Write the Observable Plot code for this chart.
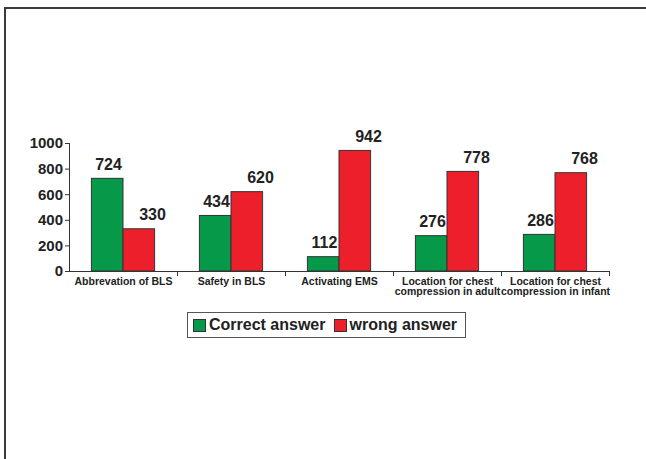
<!DOCTYPE html>
<html>
<head>
<meta charset="utf-8">
<script src="https://cdn.jsdelivr.net/npm/d3@7"></script>
<script src="https://cdn.jsdelivr.net/npm/@observablehq/plot@0.6"></script>
<style>
  html, body { margin: 0; padding: 0; background: #fff; overflow: hidden; }
  #wrap { position: relative; width: 646px; height: 459px; overflow: hidden; font-family: "Liberation Sans", Arial, sans-serif; }
  #border { position: absolute; left: 4px; top: 7px; width: 700px; height: 500px; border-left: 2px solid #3a3a3a; border-top: 2px solid #3a3a3a; }
  #chart { position: absolute; left: 0; top: 0; }
  #legend { position: absolute; left: 187px; top: 312px; width: 277px; height: 24px; border: 1.5px solid #555; background: #fff; display: flex; align-items: center; font-size: 16px; font-weight: bold; color: #222; }
  .sw { display: inline-block; width: 11px; height: 11px; border: 1px solid #333; margin-right: 3px; }
  .item { display: flex; align-items: center; }
</style>
</head>
<body>
<div id="wrap">
  <div id="border"></div>
  <div id="chart"></div>
  <div id="legend"></div>
</div>
<script>
const categories = [
  "Abbrevation of BLS",
  "Safety in BLS",
  "Activating EMS",
  "Location for chest\ncompression in adult",
  "Location for chest\ncompression in infant"
];
const correct = [724, 434, 112, 276, 286];
const wrong = [330, 620, 942, 778, 768];
const seriesNames = ["Correct answer", "wrong answer"];
const seriesColors = ["#06994a", "#ed1f2a"];
const yTicks = [0, 200, 400, 600, 800, 1000];

const greenData = categories.map((c, i) => ({cat: c, series: seriesNames[0], value: correct[i]}));
const redData = categories.map((c, i) => ({cat: c, series: seriesNames[1], value: wrong[i]}));

const chart = Plot.plot({
  width: 646,
  height: 459,
  marginLeft: 69,
  marginRight: 37,
  marginTop: 143,
  marginBottom: 188,
  style: {fontFamily: "Liberation Sans, Arial, sans-serif", color: "#222", background: "transparent"},
  x: {domain: categories, padding: 0},
  y: {domain: [0, 1000]},
  color: {domain: seriesNames, range: seriesColors},
  marks: [
    Plot.barY(greenData, {x: "cat", y: "value", fill: "series", stroke: "#333", strokeWidth: 1, insetLeft: 22.4, insetRight: 54}),
    Plot.barY(redData, {x: "cat", y: "value", fill: "series", stroke: "#333", strokeWidth: 1, insetLeft: 54, insetRight: 22.4}),
    Plot.text(greenData, {x: "cat", y: "value", text: d => String(d.value), dx: -15, dy: -14, fontSize: 16, fontWeight: "bold", fill: "#222"}),
    Plot.text(redData, {x: "cat", y: "value", text: d => String(d.value), dx: 29, dy: -14, fontSize: 16, fontWeight: "bold", fill: "#222"}),
    Plot.ruleY([0], {stroke: "#333", strokeWidth: 1}),
    Plot.frame({anchor: "left", stroke: "#333", strokeWidth: 1}),
    Plot.axisY({ticks: yTicks, tickFormat: d => String(d), tickSize: 4, tickPadding: 2.5, fontSize: 15, fontWeight: "bold", label: null, stroke: "#333"}),
    Plot.axisX({tickSize: 0, tickPadding: 6, fontSize: 10.5, fontWeight: "bold", lineHeight: 1.0, label: null}),
    Plot.axisX({tickSize: 5, tickFormat: () => "", dx: 54, label: null, stroke: "#333"})
  ]
});
document.getElementById("chart").appendChild(chart);

const legend = document.getElementById("legend");
seriesNames.forEach((name, i) => {
  const item = document.createElement("span");
  item.className = "item";
  item.style.marginLeft = i === 0 ? "5px" : "8px";
  const sw = document.createElement("span");
  sw.className = "sw";
  sw.style.background = seriesColors[i];
  item.appendChild(sw);
  item.appendChild(document.createTextNode(name));
  legend.appendChild(item);
});
</script>
</body>
</html>
